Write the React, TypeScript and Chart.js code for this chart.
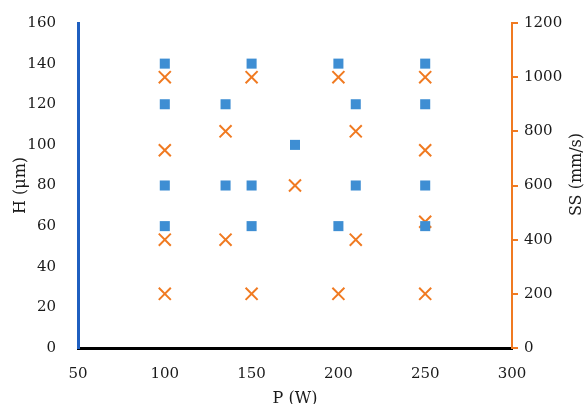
import React, { useEffect, useRef } from "react";
import { Chart, registerables } from "chart.js";

Chart.register(...registerables);

const hP = [100, 100, 100, 100, 135, 135, 150, 150, 150, 175, 200, 200, 210, 210, 250, 250, 250, 250];
const hValues = [140, 120, 80, 60, 120, 80, 140, 80, 60, 100, 140, 60, 120, 80, 140, 120, 80, 60];
const ssP = [100, 100, 100, 100, 135, 135, 150, 150, 175, 200, 200, 210, 210, 250, 250, 250, 250];
const ssValues = [1000, 730, 400, 200, 800, 400, 1000, 200, 600, 1000, 200, 800, 400, 1000, 730, 466, 200];

const xTitle = "P (W)";
const yTitle = "H (μm)";
const y2Title = "SS (mm/s)";

const FONT = "'DejaVu Serif', serif";
const BLUE_AXIS = "#1F5FC0";
const ORANGE = "#F07A21";
const BLUE_MARK = "#3E8ED3";
const TEXT = "#1a1a1a";

export default function App() {
  const ref = useRef<HTMLCanvasElement | null>(null);
  useEffect(() => {
    document.body.style.margin = "0";
    const rightTitle = {
      id: "rightTitle",
      afterDraw(chart: any) {
        const ctx = chart.ctx;
        const area = chart.chartArea;
        ctx.save();
        ctx.font = "16px " + FONT;
        ctx.fillStyle = TEXT;
        ctx.textAlign = "center";
        ctx.textBaseline = "middle";
        ctx.translate(577, (area.top + area.bottom) / 2 - 11);
        ctx.rotate(-Math.PI / 2);
        ctx.fillText(y2Title, 0, 0);
        ctx.restore();
      },
    };
    const tickFont = { family: FONT, size: 15 };
    const plain = (v: any) => String(v);
    const chart = new Chart(ref.current!, {
      type: "scatter",
      data: {
        datasets: [
          {
            label: "H",
            data: hP.map((p, i) => ({ x: p, y: hValues[i] })),
            yAxisID: "y",
            pointStyle: "rect",
            pointRadius: 7.1,
            backgroundColor: BLUE_MARK,
            borderColor: BLUE_MARK,
            borderWidth: 0,
          },
          {
            label: "SS",
            data: ssP.map((p, i) => ({ x: p, y: ssValues[i] })),
            yAxisID: "y2",
            pointStyle: "crossRot",
            pointRadius: 8.5,
            borderColor: ORANGE,
            backgroundColor: ORANGE,
            borderWidth: 2,
          },
        ],
      },
      options: {
        responsive: false,
        animation: false,
        layout: { padding: { top: 17 } },
        plugins: { legend: { display: false }, tooltip: { enabled: false } },
        scales: {
          x: {
            type: "linear",
            position: "bottom",
            min: 50,
            max: 300,
            ticks: { stepSize: 50, font: tickFont, color: TEXT, padding: 9, callback: plain },
            grid: { display: false },
            border: { display: true, color: "#000", width: 3 },
            title: { display: true, text: xTitle, font: { family: FONT, size: 16 }, color: TEXT, padding: { top: 0, bottom: -4 } },
            afterFit(s: any) { s.height = 56; },
          },
          y: {
            type: "linear",
            position: "left",
            min: 0,
            max: 160,
            ticks: { stepSize: 20, font: tickFont, color: TEXT, padding: 14, callback: plain },
            grid: { display: false },
            border: { display: true, color: BLUE_AXIS, width: 3 },
            title: { display: true, text: yTitle, font: { family: FONT, size: 16 }, color: TEXT, padding: { top: 11, bottom: 0 } },
            afterFit(s: any) { s.width = 78; },
          },
          y2: {
            type: "linear",
            position: "right",
            min: 0,
            max: 1200,
            ticks: { stepSize: 200, font: tickFont, color: TEXT, padding: 6, callback: plain },
            grid: { display: true, drawOnChartArea: false, drawTicks: true, tickLength: 6, color: ORANGE, lineWidth: 2 },
            border: { display: true, color: ORANGE, width: 2 },
            afterFit(s: any) { s.width = 76; },
          },
        },
      },
      plugins: [rightTitle],
    } as any);
    return () => chart.destroy();
  }, []);
  return (
    <div style={{ position: "fixed", left: 0, top: 0, width: 588, height: 404, background: "#fff" }}>
      <canvas ref={ref} width={588} height={404} />
    </div>
  );
}
